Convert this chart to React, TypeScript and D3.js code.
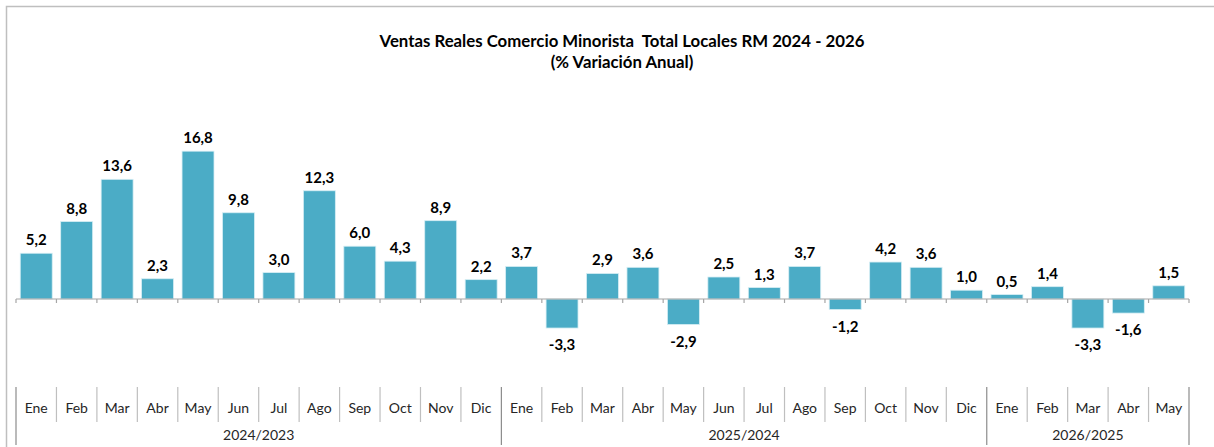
import React, { useEffect } from 'react';
import * as d3 from 'd3';

const months = [
  'Ene', 'Feb', 'Mar', 'Abr', 'May', 'Jun', 'Jul', 'Ago', 'Sep', 'Oct', 'Nov', 'Dic',
  'Ene', 'Feb', 'Mar', 'Abr', 'May', 'Jun', 'Jul', 'Ago', 'Sep', 'Oct', 'Nov', 'Dic',
  'Ene', 'Feb', 'Mar', 'Abr', 'May',
];
const values = [
  5.2, 8.8, 13.6, 2.3, 16.8, 9.8, 3.0, 12.3, 6.0, 4.3, 8.9, 2.2,
  3.7, -3.3, 2.9, 3.6, -2.9, 2.5, 1.3, 3.7, -1.2, 4.2, 3.6, 1.0,
  0.5, 1.4, -3.3, -1.6, 1.5,
];
const groups = ['2024/2023', '2025/2024', '2026/2025'];
const groupSizes = [12, 12, 5];

const W = 1214;
const H = 447;
const font = 'Lato, "Open Sans", sans-serif';
const fmt = (v: number) => v.toFixed(1).replace('.', ',');

export default function App() {
  useEffect(() => {
    document.body.style.margin = '0';
  }, []);

  const x = d3.scaleBand<number>()
    .domain(d3.range(values.length))
    .range([16, 1189])
    .padding(0);
  const y = d3.scaleLinear().domain([-10, 20]).range([387, 123]);
  const bw = x.bandwidth() * 0.79;
  const y0 = y(0);

  // group boundaries (category index where each group starts)
  const starts = groupSizes.map((_, i) => d3.sum(groupSizes.slice(0, i)));
  const groupEdges = new Set([...starts, values.length]);

  return (
    <svg width={W} height={H} style={{ display: 'block', background: '#fff' }}>
      <path d={`M6.5,${H} V6.5 H${W}`} fill="none" stroke="#bfbfbf" strokeWidth={1.5} />

      <text x={622} y={47} textAnchor="middle" fontFamily={font} fontWeight="bold" fontSize={16.8} fill="#000" style={{ whiteSpace: 'pre' }}>
        {'Ventas Reales Comercio Minorista  Total Locales RM 2024 - 2026'}
      </text>
      <text x={622} y={68} textAnchor="middle" fontFamily={font} fontWeight="bold" fontSize={16.8} fill="#000">
        (% Variación Anual)
      </text>

      {values.map((v, i) => {
        const cx = x(i)! + x.bandwidth() / 2;
        const top = y(Math.max(0, v));
        const h = Math.abs(y(v) - y0);
        return (
          <g key={i}>
            <rect x={cx - bw / 2} y={top} width={bw} height={h} fill="#4bacc6" stroke="#d6eef4" strokeWidth={0.8} />
            <text
              x={cx}
              y={v >= 0 ? y(v) - 8 : y(v) + 22}
              textAnchor="middle"
              fontFamily={font}
              fontWeight="bold"
              fontSize={15}
              fill="#000"
            >
              {fmt(v)}
            </text>
          </g>
        );
      })}

      <line x1={16} x2={1189} y1={y0} y2={y0} stroke="#a6a6a6" strokeWidth={1.2} />
      {d3.range(values.length + 1).map(i => {
        const bx = i < values.length ? x(i)! : x.range()[1];
        return <line key={'t' + i} x1={bx} x2={bx} y1={y0} y2={y0 + 4} stroke="#a6a6a6" strokeWidth={1.2} />;
      })}

      {d3.range(values.length + 1).map(i => {
        const bx = i < values.length ? x(i)! : x.range()[1];
        const full = groupEdges.has(i);
        return (
          <line
            key={'s' + i}
            x1={bx}
            x2={bx}
            y1={387}
            y2={full ? 445 : 422}
            stroke={full ? '#8c8c8c' : '#bfbfbf'}
            strokeWidth={1.2}
          />
        );
      })}

      {months.map((m, i) => (
        <text
          key={'m' + i}
          x={x(i)! + x.bandwidth() / 2}
          y={413}
          textAnchor="middle"
          fontFamily={font}
          fontSize={14}
          fill="#262626"
        >
          {m}
        </text>
      ))}

      {groups.map((g, gi) => {
        const a = x(starts[gi])!;
        const b = starts[gi] + groupSizes[gi] < values.length ? x(starts[gi] + groupSizes[gi])! : x.range()[1];
        return (
          <text key={g} x={(a + b) / 2} y={440} textAnchor="middle" fontFamily={font} fontSize={14} fill="#262626">
            {g}
          </text>
        );
      })}
    </svg>
  );
}
